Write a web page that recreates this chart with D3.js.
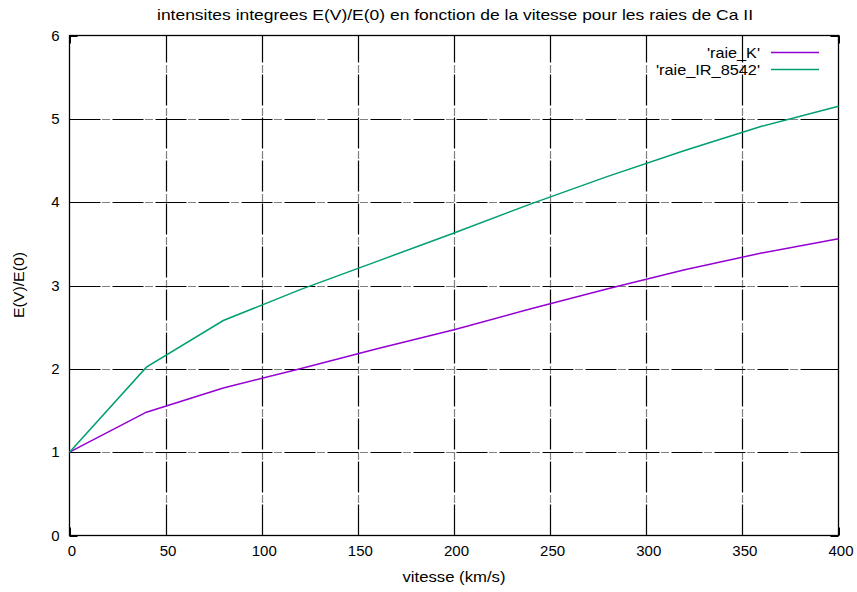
<!DOCTYPE html>
<html>
<head>
<meta charset="utf-8">
<script src="https://cdn.jsdelivr.net/npm/d3@7"></script>
<style>
  html, body { margin: 0; padding: 0; background: #fff; }
  svg { display: block; }
  text { font-family: "Liberation Sans", Arial, sans-serif; fill: #000; }
</style>
</head>
<body>
<svg id="chart" width="857" height="592"></svg>
<script>
// Vitesse (km/s) sample points
const vitesse = [0, 40, 80, 120, 160, 200, 240, 280, 320, 360, 400];
// Integrated intensities E(V)/E(0)
const raieK = [1.00, 1.48, 1.77, 2.00, 2.24, 2.47, 2.72, 2.96, 3.19, 3.39, 3.56];
const raieIR8542 = [1.00, 2.02, 2.58, 2.95, 3.29, 3.63, 3.98, 4.31, 4.62, 4.91, 5.15];

const xTicks = [0, 50, 100, 150, 200, 250, 300, 350, 400];
const yTicks = [0, 1, 2, 3, 4, 5, 6];

const seriesNames = ["'raie_K'", "'raie_IR_8542'"];
const seriesColors = ["#9400d3", "#009e73"];
const seriesValues = [raieK, raieIR8542];

const titleText = "intensites integrees E(V)/E(0) en fonction de la vitesse pour les raies de Ca II";
const xLabel = "vitesse (km/s)";
const yLabel = "E(V)/E(0)";

const svg = d3.select("#chart");
const plotL = 69.5, plotR = 838.5, plotT = 35.5, plotB = 535.5;
const fs = 15;

const x = d3.scaleLinear().domain([0, 400]).range([plotL, plotR]);
const y = d3.scaleLinear().domain([0, 6]).range([plotB, plotT]);

const gridDash = "31,2,1,1,1,1,1,1,1,3";

// grid
const grid = svg.append("g");
grid.selectAll("line.vx").data(xTicks.slice(1, -1)).join("line")
  .attr("x1", d => Math.round(x(d)) + 0.5).attr("x2", d => Math.round(x(d)) + 0.5)
  .attr("y1", plotB).attr("y2", plotT)
  .attr("stroke", "#000").attr("stroke-width", 1.2).attr("stroke-dasharray", gridDash);
grid.selectAll("line.hy").data(yTicks.slice(1, -1)).join("line")
  .attr("y1", d => Math.round(y(d)) + 0.5).attr("y2", d => Math.round(y(d)) + 0.5)
  .attr("x1", plotL).attr("x2", plotR)
  .attr("stroke", "#000").attr("stroke-width", 1.2).attr("stroke-dasharray", gridDash);

// axes (labels only, ticks drawn inward)
const xAxis = d3.axisBottom(x).tickValues(xTicks).tickFormat(d3.format("d")).tickSize(0).tickPadding(10);
const gx = svg.append("g").attr("transform", `translate(0,${plotB})`).call(xAxis);
gx.select(".domain").remove();
gx.selectAll("text").attr("font-size", fs).attr("font-family", "Liberation Sans, Arial, sans-serif").attr("dx", 2);

const yAxis = d3.axisLeft(y).tickValues(yTicks).tickFormat(d3.format("d")).tickSize(0).tickPadding(10);
const gy = svg.append("g").attr("transform", `translate(${plotL},0)`).call(yAxis);
gy.select(".domain").remove();
gy.selectAll("text").attr("font-size", fs).attr("font-family", "Liberation Sans, Arial, sans-serif");

// inward tick marks on all sides
const ticks = svg.append("g").attr("stroke", "#000").attr("stroke-width", 1);
xTicks.forEach(d => {
  const px = Math.round(x(d)) + 0.5;
  ticks.append("line").attr("x1", px).attr("x2", px).attr("y1", plotB).attr("y2", plotB - 8);
  ticks.append("line").attr("x1", px).attr("x2", px).attr("y1", plotT).attr("y2", plotT + 8);
});
yTicks.forEach(d => {
  const py = Math.round(y(d)) + 0.5;
  ticks.append("line").attr("y1", py).attr("y2", py).attr("x1", plotL).attr("x2", plotL + 8);
  ticks.append("line").attr("y1", py).attr("y2", py).attr("x1", plotR).attr("x2", plotR - 8);
});

// frame
svg.append("rect").attr("x", plotL).attr("y", plotT)
  .attr("width", plotR - plotL).attr("height", plotB - plotT)
  .attr("fill", "none").attr("stroke", "#000").attr("stroke-width", 1.3);

// curves
const line = d3.line().x((d, i) => x(vitesse[i])).y(d => y(d));
seriesValues.forEach((vals, k) => {
  svg.append("path").datum(vals).attr("d", line)
    .attr("fill", "none").attr("stroke", seriesColors[k]).attr("stroke-width", 1.5);
});

// legend
const legY = [52.5, 69.5];
const legLen = [53, 104];
seriesNames.forEach((name, k) => {
  svg.append("text").attr("x", 760).attr("y", legY[k]).attr("dy", "0.35em")
    .attr("text-anchor", "end").attr("font-size", fs)
    .attr("textLength", legLen[k]).attr("lengthAdjust", "spacingAndGlyphs").text(name);
  svg.append("line").attr("x1", 771).attr("x2", 819).attr("y1", legY[k]).attr("y2", legY[k])
    .attr("stroke", seriesColors[k]).attr("stroke-width", 1.5);
});

// title and axis labels
svg.append("text").attr("x", 455).attr("y", 15).attr("dy", "0.35em")
  .attr("text-anchor", "middle").attr("font-size", fs)
  .attr("textLength", 596).attr("lengthAdjust", "spacingAndGlyphs").text(titleText);
svg.append("text").attr("x", 454).attr("y", 577).attr("dy", "0.35em")
  .attr("text-anchor", "middle").attr("font-size", fs)
  .attr("textLength", 103).attr("lengthAdjust", "spacingAndGlyphs").text(xLabel);
svg.append("text").attr("transform", "translate(19,285) rotate(-90)").attr("dy", "0.35em")
  .attr("text-anchor", "middle").attr("font-size", fs)
  .attr("textLength", 66).attr("lengthAdjust", "spacingAndGlyphs").text(yLabel);
</script>
</body>
</html>
